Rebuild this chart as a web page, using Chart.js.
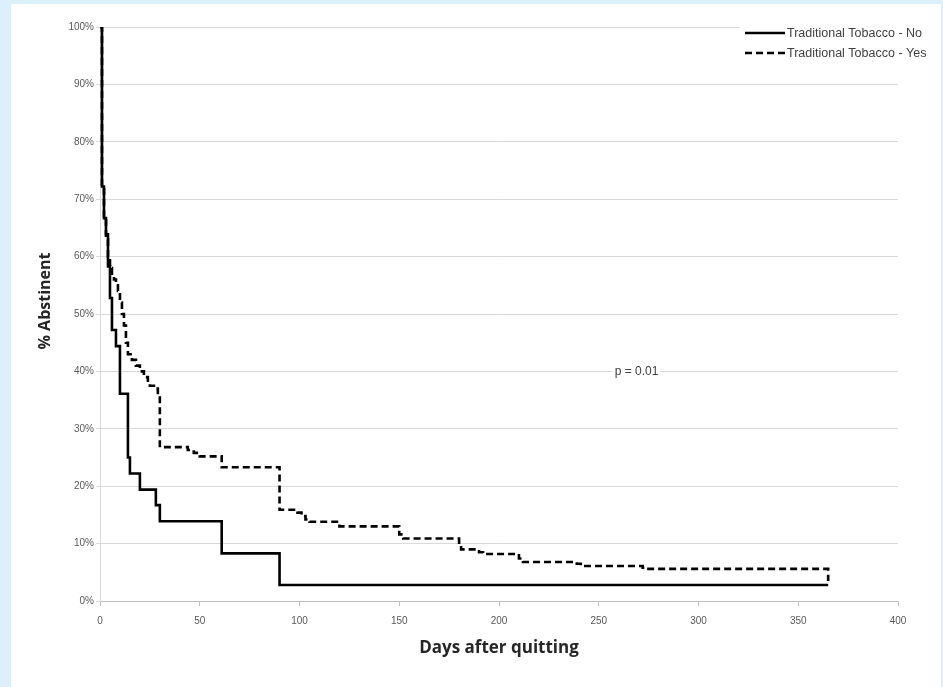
<!DOCTYPE html>
<html>
<head>
<meta charset="utf-8">
<script src="https://cdn.jsdelivr.net/npm/chart.js@4.4.1/dist/chart.umd.min.js"></script>
<style>
  html, body { margin: 0; padding: 0; background: #dcf0fb; }
  #box { position: absolute; left: 11px; top: 4px; width: 930px; height: 683px; background: #fff; }
</style>
</head>
<body>
<div id="box"><canvas id="km"></canvas></div>
<script>
// Kaplan-Meier style curves
const daysNo = [0, 1, 2, 3, 4, 5, 6, 8, 10, 14, 15, 20, 28, 30, 61, 90, 365];
const pctNo  = [100, 72.2, 66.7, 63.9, 58.3, 52.8, 47.2, 44.4, 36.1, 25.0, 22.2, 19.4, 16.7, 13.9, 8.3, 2.8, 2.8];

const daysYes = [0, 1, 2, 3, 4, 5, 6, 7, 8, 9, 10, 11, 12, 13, 14, 16, 18, 20, 22, 24, 25, 28, 29, 30,
                 44, 47, 50, 61, 90, 99, 101, 103, 105, 120, 150, 152, 180, 181, 190, 192, 210, 212,
                 239, 241, 272, 274, 365];
const pctYes  = [100, 72, 67, 63, 60, 58, 57, 56, 55, 54, 52, 50, 48, 45, 43, 42, 41, 40, 39, 38, 37.5, 37, 36, 26.8,
                 26.3, 25.8, 25.2, 23.3, 15.9, 15.4, 14.8, 14.2, 13.8, 13.0, 11.6, 10.9, 9.6, 9.0, 8.5, 8.2, 7.4, 6.8,
                 6.5, 6.1, 5.8, 5.6, 3.5];

const seriesNames = ['Traditional Tobacco - No', 'Traditional Tobacco - Yes'];
const xTicks = [0, 50, 100, 150, 200, 250, 300, 350, 400];
const pLabel = 'p = 0.01';
const yTitle = '% Abstinent';

const toPts = (xs, ys) => xs.map((d, i) => ({x: d, y: ys[i]}));

const legendAndNote = {
  id: 'legendAndNote',
  afterDraw(chart) {
    const c = chart.ctx;
    const xs = chart.scales.x, ys = chart.scales.y;
    c.save();
    // legend
    c.fillStyle = '#fff';
    c.fillRect(729, 18, 200, 44);
    c.font = '12.5px "Liberation Sans"';
    c.textBaseline = 'middle';
    c.lineWidth = 2.5;
    c.strokeStyle = '#000';
    [[29, []], [49, [7, 4]]].forEach(([yy, dash], i) => {
      c.setLineDash(dash);
      c.beginPath(); c.moveTo(734, yy); c.lineTo(774, yy); c.stroke();
      c.fillStyle = '#404040';
      c.fillText(seriesNames[i], 776, yy + 1);
    });
    c.setLineDash([]);
    // p value note
    const px = xs.getPixelForValue(258), py = ys.getPixelForValue(40);
    c.font = '12px "Liberation Sans"';
    const w = c.measureText(pLabel).width;
    c.fillStyle = '#fff';
    c.fillRect(px - 2, py - 7, w + 4, 14);
    c.fillStyle = '#404040';
    c.fillText(pLabel, px, py);
    // y axis title
    c.translate(34, 297);
    c.rotate(-Math.PI / 2);
    c.textAlign = 'center';
    c.font = 'bold 16px "Open Sans"';
    c.fillStyle = '#262626';
    c.fillText(yTitle, 0, 0);
    c.restore();
  }
};

new Chart(document.getElementById('km'), {
  type: 'line',
  data: {
    datasets: [
      { label: seriesNames[0], data: toPts(daysNo, pctNo), borderColor: '#000', borderWidth: 2.6,
        stepped: true, pointRadius: 0, fill: false },
      { label: seriesNames[1], data: toPts(daysYes, pctYes), borderColor: '#000', borderWidth: 2.6,
        borderDash: [7, 4], stepped: true, pointRadius: 0, fill: false }
    ]
  },
  options: {
    responsive: true,
    maintainAspectRatio: false,
    animation: false,
    layout: { padding: { top: 23, right: 43, left: 0, bottom: 0 } },
    plugins: { legend: { display: false }, tooltip: { enabled: false } },
    scales: {
      x: {
        type: 'linear', min: 0, max: 400,
        afterBuildTicks: s => { s.ticks = xTicks.map(v => ({value: v})); },
        afterFit: s => { s.height = 86; },
        grid: { drawOnChartArea: false, drawTicks: true, tickLength: 5, tickColor: '#bfbfbf' },
        border: { color: '#bfbfbf' },
        ticks: { color: '#595959', font: { family: 'Liberation Sans', size: 10 }, padding: 9, maxRotation: 0 },
        title: { display: true, text: 'Days after quitting', color: '#262626',
                 font: { family: 'Open Sans', size: 17, weight: 'bold' }, padding: { top: 0, bottom: 29 } }
      },
      y: {
        min: 0, max: 100,
        afterFit: s => { s.width = 89; },
        grid: { color: '#d9d9d9', lineWidth: 1, tickLength: 4, tickColor: '#d9d9d9' },
        border: { color: '#d9d9d9' },
        ticks: { stepSize: 10, callback: v => v + '%', color: '#595959',
                 font: { family: 'Liberation Sans', size: 10 }, padding: 2 },
        title: { display: false }
      }
    }
  },
  plugins: [legendAndNote]
});
</script>
</body>
</html>
